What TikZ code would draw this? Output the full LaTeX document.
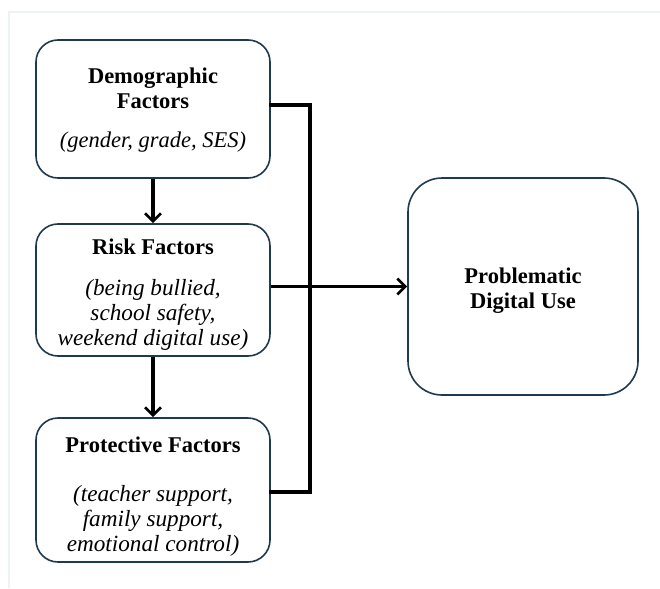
\documentclass[tikz,border=0pt]{standalone}
\usepackage{fontspec}
\setmainfont{Liberation Serif}
\usetikzlibrary{arrows.meta}

\definecolor{boxline}{HTML}{1F3A4F}
\definecolor{frameline}{HTML}{EDF3F2}
\newcommand{\examples}[1]{{\fontsize{23.2}{25}\selectfont\itshape #1}}

\begin{document}
\begin{tikzpicture}[x=1pt,y=-1pt,
    factor/.style={draw=boxline,line width=1.6pt,rounded corners=22pt,
        minimum width=234pt,inner sep=0pt},
    factortext/.style={align=center,inner sep=0pt,
        font=\fontsize{22.5}{25}\selectfont},
    link/.style={line width=3.2pt,line cap=rect},
    linkarrow/.style={line width=3.2pt,-{Straight Barb[length=8pt,width=16pt,line width=2.7pt]}}]
        \useasboundingbox (0,0) rectangle (660,588);
        \fill[white] (0,0) rectangle (660,588);
        \draw[frameline,line width=1.5pt] (9,588) -- (9,12) -- (660,12);

        % boxes
        \node[factor,minimum height=138pt] (demo) at (153,109) {};
        \node[factor,minimum height=132pt] (risk) at (153,290) {};
        \node[factor,minimum height=144pt] (prot) at (153,490) {};
        \node[factor,minimum width=230pt,minimum height=217pt,rounded corners=34pt] (use) at (523,286.5) {};

        % texts
        \node[factortext] (demotext) at (153,110)
            {\textbf{Demographic}\\\textbf{Factors}\\[14pt]\textit{(gender, grade, SES)}};
        \node[factortext] (risktext) at (153,295)
            {\textbf{Risk Factors}\\[16pt]\examples{(being bullied,}\\\examples{school safety,}\\\examples{weekend digital use)}};
        \node[factortext] (prottext) at (153,497)
            {\textbf{Protective Factors}\\[24pt]\examples{(teacher support,}\\\examples{family support,}\\\examples{emotional control)}};
        \node[factortext] (usetext) at (523,291)
            {\textbf{Problematic}\\\textbf{Digital Use}};

        \coordinate (J1) at (310,105);
        \coordinate (J2) at (310,492);

        \draw[linkarrow] (demo.south) -- (risk.north);
        \draw[linkarrow] (risk.south) -- (prot.north);
        \draw[link] (demo.east |- J1) -- (J1) -- (J2) -- (prot.east |- J2);
        \draw[linkarrow] (risk.east |- use.west) -- (use.west);
    \end{tikzpicture}
\end{document}
